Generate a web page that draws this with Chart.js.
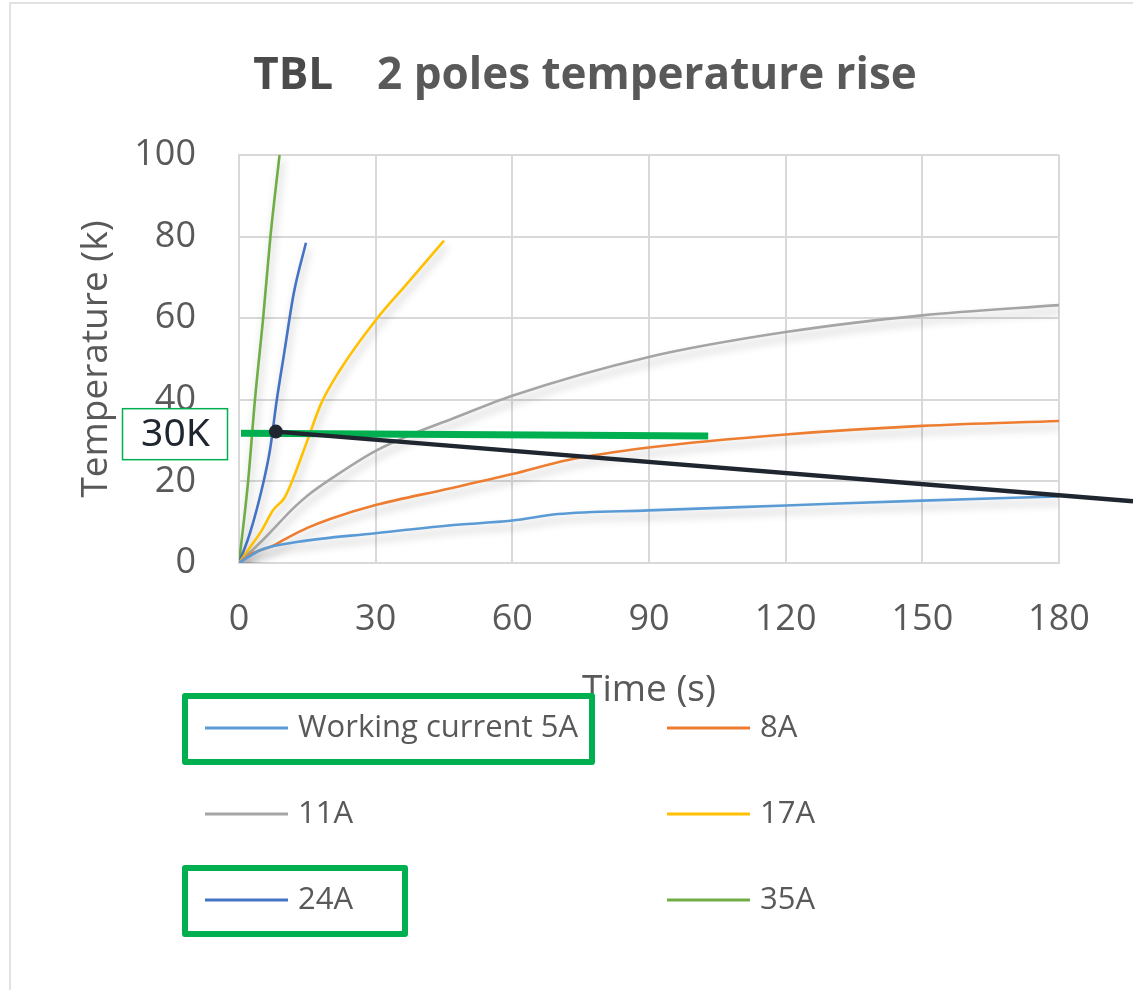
<!DOCTYPE html>
<html>
<head>
<meta charset="utf-8">
<title>TBL 2 poles temperature rise</title>
<script src="https://cdn.jsdelivr.net/npm/chart.js@4.4.1/dist/chart.umd.min.js"></script>
<style>
  html, body { margin: 0; padding: 0; background: #ffffff; }
  canvas { display: block; }
</style>
</head>
<body>
<canvas id="chart" width="1133" height="990"></canvas>
<script>
// Temperature rise (K) against time (s) for each test current
const t5A  = [0, 5, 13, 30, 46, 60, 70, 90, 120, 150, 180];
const k5A  = [0, 3.3, 5.2, 7.3, 9.2, 10.4, 12.0, 12.9, 14.1, 15.3, 16.3];

const t8A  = [0, 3, 7, 10, 15, 20, 30, 46, 60, 72, 90, 120, 150, 180];
const k8A  = [0, 2.4, 4.0, 5.8, 8.6, 10.8, 14.2, 18.2, 21.8, 25.2, 28.3, 31.5, 33.6, 34.8];

const t11A = [0, 6, 12, 15, 20, 30, 40, 46, 60, 90, 120, 150, 180];
const k11A = [0, 6.5, 13.5, 16.5, 20.5, 27.5, 32.5, 35.0, 41.0, 50.5, 56.6, 60.7, 63.2];

const t17A = [0, 2, 5, 7.5, 10, 12, 15, 18, 22, 30, 37, 45];
const k17A = [0, 3.2, 8.0, 13.0, 16.0, 21.0, 30.0, 39.0, 47.0, 59.5, 68.6, 79.0];

const t24A = [0, 2.4, 5.3, 6.8, 8.3, 10, 12, 14.7];
const k24A = [0, 7.3, 19.5, 27.7, 40.0, 52.0, 66.0, 78.5];

const t35A = [0, 2, 3.5, 5.3, 6.9, 8.9];
const k35A = [0, 20, 40, 60, 80, 100];

const seriesLabels = ['Working current 5A', '8A', '11A', '17A', '24A', '35A'];
const seriesColors = ['#5B9BD5', '#ED7D31', '#A5A5A5', '#FFC000', '#4472C4', '#70AD47'];

const xTicks = [0, 30, 60, 90, 120, 150, 180];
const yTicks = [0, 20, 40, 60, 80, 100];

// 30 K limit marker and the leader line from the 24A crossing
const limitT = [0, 103];
const limitK = [31.8, 31.1];
const pointerT = [8.1, 180];
const pointerK = [32.2, 16.6];
const limitText = '30K';

// Legend entries framed in green
const framedItems = [0, 4];

const TEXT_GREY = '#595959';
const GRID_GREY = '#d9d9d9';
const MARK_GREEN = '#00B050';
const INK = '#1f2630';

function pairs(ts, ks) { return ts.map((t, i) => ({ x: t, y: ks[i] })); }

const seriesData = [
  pairs(t5A, k5A), pairs(t8A, k8A), pairs(t11A, k11A),
  pairs(t17A, k17A), pairs(t24A, k24A), pairs(t35A, k35A)
];

const datasets = seriesData.map((d, i) => ({
  label: seriesLabels[i],
  data: d,
  borderColor: seriesColors[i],
  backgroundColor: seriesColors[i],
  borderWidth: 2.6,
  pointRadius: 0,
  fill: false,
  cubicInterpolationMode: 'monotone'
}));

// Soft drop shadow under the curves
const lineShadow = {
  id: 'lineShadow',
  beforeDatasetsDraw(chart) {
    const c = chart.ctx;
    c.save();
    c.shadowColor = 'rgba(0,0,0,0.28)';
    c.shadowBlur = 8;
    c.shadowOffsetX = 2;
    c.shadowOffsetY = 6;
  },
  afterDatasetsDraw(chart) {
    chart.ctx.restore();
  }
};

// Limit line, leader line, marker dot and the boxed "30K" label
const limitMarks = {
  id: 'limitMarks',
  afterDatasetsDraw(chart) {
    const c = chart.ctx;
    const xs = chart.scales.x, ys = chart.scales.y;
    const area = chart.chartArea;
    c.save();

    // green limit line
    c.strokeStyle = MARK_GREEN;
    c.lineWidth = 7;
    c.lineCap = 'butt';
    c.beginPath();
    c.moveTo(xs.getPixelForValue(limitT[0]) + 2, ys.getPixelForValue(limitK[0]));
    c.lineTo(xs.getPixelForValue(limitT[1]), ys.getPixelForValue(limitK[1]));
    c.stroke();

    // leader line, carried on to the right edge of the canvas
    const x0 = xs.getPixelForValue(pointerT[0]), y0 = ys.getPixelForValue(pointerK[0]);
    const x1 = xs.getPixelForValue(pointerT[1]), y1 = ys.getPixelForValue(pointerK[1]);
    const xe = chart.width;
    const ye = y0 + (y1 - y0) * (xe - x0) / (x1 - x0);
    c.strokeStyle = INK;
    c.lineWidth = 4.5;
    c.beginPath();
    c.moveTo(x0, y0);
    c.lineTo(xe, ye);
    c.stroke();

    c.fillStyle = INK;
    c.beginPath();
    c.arc(x0, y0, 7, 0, Math.PI * 2);
    c.fill();

    // boxed label left of the axis
    const cy = ys.getPixelForValue((limitK[0] + limitK[1]) / 2) - 1;
    const bx = area.left - 117, bw = 105, bh = 51;
    c.fillStyle = '#ffffff';
    c.fillRect(bx, cy - bh / 2, bw, bh);
    c.strokeStyle = MARK_GREEN;
    c.lineWidth = 1.5;
    c.strokeRect(bx + 0.5, cy - bh / 2 + 0.5, bw, bh);
    c.fillStyle = INK;
    c.font = '39px "Noto Sans", "Open Sans", sans-serif';
    c.textAlign = 'center';
    c.textBaseline = 'middle';
    c.fillText(limitText, bx + bw / 2 + 1, cy + 1);
    c.restore();
  }
};

// Title, two-column legend and frame
const frameAndLegend = {
  id: 'frameAndLegend',
  afterDraw(chart) {
    const c = chart.ctx;
    c.save();

    // outer frame edge
    c.strokeStyle = GRID_GREY;
    c.lineWidth = 1.5;
    c.beginPath();
    c.moveTo(10, chart.height);
    c.lineTo(10, 3);
    c.lineTo(chart.width, 3);
    c.stroke();

    // title in two runs
    const part1 = 'TBL', part2 = '2 poles temperature rise';
    c.textBaseline = 'alphabetic';
    c.textAlign = 'left';
    c.font = 'bold 44px "Open Sans", sans-serif';
    const w1 = c.measureText(part1).width;
    const w2 = c.measureText(part2).width;
    const gap = 44;
    const startX = 585 - (w1 + gap + w2) / 2;
    c.fillStyle = '#4a4a4a';
    c.fillText(part1, startX, 89);
    c.fillStyle = TEXT_GREY;
    c.fillText(part2, startX + w1 + gap, 89);

    // legend, two columns
    const colX = [205, 667];
    const rowY0 = 728, rowStep = 86;
    const sampleLen = 83, textGap = 10;
    c.font = '31px "Open Sans", sans-serif';
    c.textBaseline = 'middle';
    const itemBox = [];
    chart.data.datasets.forEach((ds, i) => {
      const x = colX[i % 2];
      const y = rowY0 + Math.floor(i / 2) * rowStep;
      c.strokeStyle = ds.borderColor;
      c.lineWidth = 3;
      c.beginPath();
      c.moveTo(x, y);
      c.lineTo(x + sampleLen, y);
      c.stroke();
      c.fillStyle = TEXT_GREY;
      c.fillText(ds.label, x + sampleLen + textGap, y);
      const tw = c.measureText(ds.label).width;
      itemBox[i] = { x, y, end: x + sampleLen + textGap + tw };
    });

    // green frames around chosen legend entries
    c.strokeStyle = MARK_GREEN;
    c.lineWidth = 6;
    c.lineJoin = 'round';
    framedItems.forEach(i => {
      const it = itemBox[i];
      const left = it.x - 20;
      const right = i === 0 ? it.end + 14 : left + 220;
      c.strokeRect(left, it.y - 32, right - left, 66);
    });
    c.restore();
  }
};

new Chart(document.getElementById('chart'), {
  type: 'line',
  data: { datasets },
  options: {
    responsive: false,
    animation: false,
    events: [],
    layout: { padding: { top: 155, right: 74, bottom: 277, left: 0 } },
    plugins: {
      legend: { display: false },
      title: { display: false },
      tooltip: { enabled: false }
    },
    scales: {
      x: {
        type: 'linear',
        min: xTicks[0],
        max: xTicks[xTicks.length - 1],
        afterBuildTicks: s => { s.ticks = xTicks.map(v => ({ value: v })); },
        afterFit: s => { s.height = 150; },
        grid: { color: GRID_GREY, lineWidth: 2, drawTicks: false },
        border: { color: GRID_GREY, width: 2 },
        ticks: {
          padding: 35,
          color: TEXT_GREY,
          font: { family: '"Open Sans", sans-serif', size: 36 },
          maxRotation: 0
        },
        title: {
          display: true,
          text: 'Time (s)',
          color: TEXT_GREY,
          font: { family: '"Open Sans", sans-serif', size: 37 },
          padding: { top: 0, bottom: 0 }
        }
      },
      y: {
        type: 'linear',
        min: yTicks[0],
        max: yTicks[yTicks.length - 1],
        afterBuildTicks: s => { s.ticks = yTicks.map(v => ({ value: v })); },
        afterFit: s => { s.width = 239; },
        grid: { color: GRID_GREY, lineWidth: 2, drawTicks: false },
        border: { color: GRID_GREY, width: 2 },
        ticks: {
          padding: 43,
          color: TEXT_GREY,
          font: { family: '"Open Sans", sans-serif', size: 36 }
        },
        title: {
          display: true,
          text: 'Temperature (k)',
          color: TEXT_GREY,
          font: { family: '"Open Sans", sans-serif', size: 37 },
          padding: { top: 74, bottom: 0 }
        }
      }
    }
  },
  plugins: [lineShadow, limitMarks, frameAndLegend]
});
</script>
</body>
</html>
